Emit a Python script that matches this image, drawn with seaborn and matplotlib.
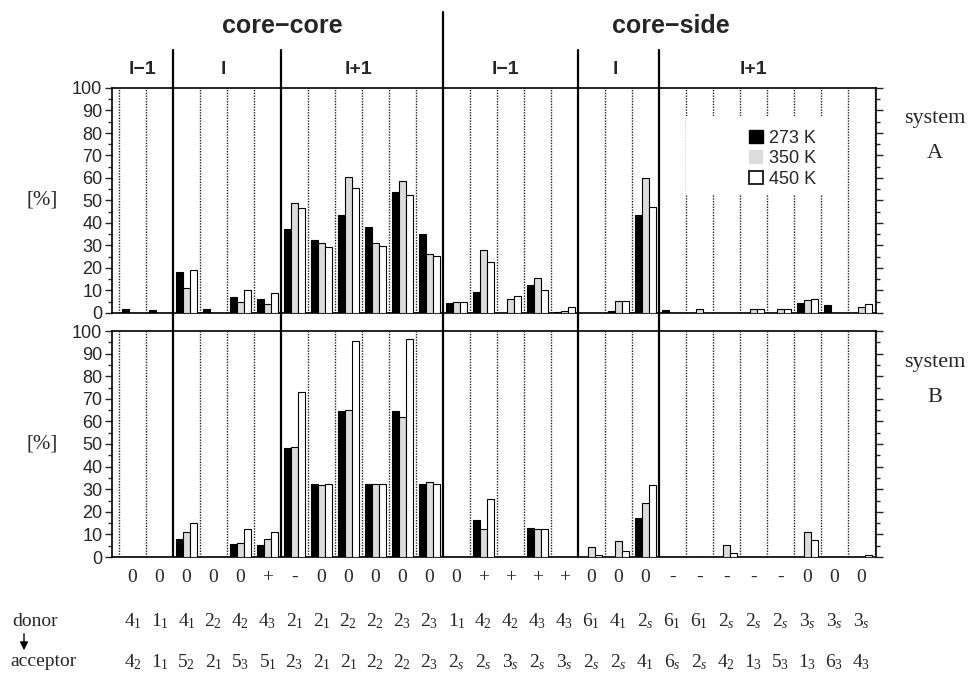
import numpy as np
import pandas as pd
import seaborn as sns
import matplotlib.pyplot as plt
import matplotlib.transforms as mtransforms
from matplotlib.patches import Patch, Rectangle
from matplotlib.ticker import MultipleLocator

# ---- data ----
temps = ['273 K', '350 K', '450 K']

charge = ['0', '0', '0', '0', '0', '+', '-', '0', '0', '0', '0', '0', '0', '+',
          '+', '+', '+', '0', '0', '0', '-', '-', '-', '-', '-', '0', '0', '0']
donor = ['4$_1$', '1$_1$', '4$_1$', '2$_2$', '4$_2$', '4$_3$', '2$_1$', '2$_1$',
         '2$_2$', '2$_2$', '2$_3$', '2$_3$', '1$_1$', '4$_2$', '4$_2$', '4$_3$',
         '4$_3$', '6$_1$', '4$_1$', '2$_s$', '6$_1$', '6$_1$', '2$_s$', '2$_s$',
         '2$_s$', '3$_s$', '3$_s$', '3$_s$']
acceptor = ['4$_2$', '1$_1$', '5$_2$', '2$_1$', '5$_3$', '5$_1$', '2$_3$', '2$_1$',
            '2$_1$', '2$_2$', '2$_2$', '2$_3$', '2$_s$', '2$_s$', '3$_s$', '2$_s$',
            '3$_s$', '2$_s$', '2$_s$', '4$_1$', '6$_s$', '2$_s$', '4$_2$', '1$_3$',
            '5$_3$', '1$_3$', '6$_3$', '4$_3$']

sysA_273 = [1.8, 1.5, 18.4, 1.8, 7.1, 6.2, 37.2, 32.3, 43.4, 38.4, 53.6, 35.3, 4.3, 9.5,
            0, 12.3, 0.4, 0, 1.0, 43.7, 1.5, 0, 0, 0, 0, 4.3, 3.6, 0]
sysA_350 = [0, 0, 11.1, 0, 4.7, 4.1, 48.7, 31.0, 60.4, 31.3, 58.7, 26.4, 4.9, 27.9,
            6.2, 15.6, 1.0, 0, 5.5, 60.0, 0, 1.8, 0, 1.8, 1.8, 5.6, 0, 2.7]
sysA_450 = [0, 0, 19.0, 0, 10.4, 8.9, 46.7, 29.2, 55.6, 29.8, 52.4, 25.2, 4.9, 22.7,
            7.7, 10.4, 2.5, 0, 5.5, 47.1, 0, 0, 0, 1.8, 1.8, 6.4, 0, 4.0]

sysB_273 = [0, 0, 8.1, 0, 5.7, 5.4, 48.4, 32.5, 64.6, 32.5, 64.7, 32.1, 0, 16.3,
            0, 12.9, 0, 0, 0, 17.2, 0, 0, 0, 0, 0, 0, 0, 0]
sysB_350 = [0, 0, 11.0, 0, 6.0, 8.1, 48.8, 31.9, 65.1, 32.1, 61.8, 33.2, 0, 12.4,
            0, 12.2, 0, 4.3, 7.2, 23.8, 0, 0, 5.3, 0, 0, 11.0, 0, 0]
sysB_450 = [0, 0, 14.9, 0, 12.4, 11.0, 72.9, 32.5, 95.7, 32.4, 96.6, 32.1, 0, 25.6,
            0, 12.2, 0, 1.0, 2.5, 31.9, 0, 0, 1.9, 0, 0, 7.5, 0, 0.9]

# group structure: boundaries between categories (index of first category of a group)
group_bounds = [2, 6, 12, 17, 20]
main_groups = ['core\u2212core', 'core\u2212side']
sub_groups = ['l\u22121', 'l', 'l+1', 'l\u22121', 'l', 'l+1']

rows = []
for system, series in [('A', [sysA_273, sysA_350, sysA_450]),
                       ('B', [sysB_273, sysB_350, sysB_450])]:
    for t, vals in zip(temps, series):
        for i, v in enumerate(vals):
            rows.append({'system': system, 'temp': t, 'cat': i, 'value': v})
df = pd.DataFrame(rows)

# ---- styling ----
sns.set_style('ticks')
plt.rcParams['font.family'] = ['Liberation Sans', 'DejaVu Sans']
plt.rcParams['mathtext.fontset'] = 'custom'
plt.rcParams['mathtext.rm'] = 'Liberation Serif'
plt.rcParams['mathtext.it'] = 'Liberation Serif:italic'
serif = ['Liberation Serif', 'DejaVu Serif']

palette = {'273 K': 'black', '350 K': '#dcdcdc', '450 K': 'white'}
W, H = 971, 677
fig = plt.figure(figsize=(W / 100, H / 100), dpi=100)
ax_a = fig.add_axes([112 / W, 1 - 313 / H, 764 / W, 225 / H])
ax_b = fig.add_axes([112 / W, 1 - 557 / H, 764 / W, 226 / H])

n = len(charge)
for ax, system in [(ax_a, 'A'), (ax_b, 'B')]:
    sns.barplot(data=df[df.system == system], x='cat', y='value', hue='temp',
                hue_order=temps, palette=palette, width=0.78, gap=0, dodge=True,
                edgecolor='black', linewidth=0.8, errorbar=None, legend=False,
                ax=ax, zorder=3)
    ax.set_xlim(-0.76, n - 0.46)
    ax.set_ylim(0, 100)
    ax.set_xlabel('')
    ax.set_ylabel('')
    ax.set_xticks([])
    ax.yaxis.set_major_locator(MultipleLocator(10))
    ax.yaxis.set_minor_locator(MultipleLocator(5))
    ax.tick_params(axis='y', which='major', direction='out', length=5, width=1,
                   labelsize=13, left=True, right=True, pad=2)
    ax.tick_params(axis='y', which='minor', direction='out', length=3, width=1,
                   left=True, right=True)
    for s in ax.spines.values():
        s.set_linewidth(1.2)
        s.set_color('black')
    # dotted separators between categories
    for b in range(n + 1):
        if b not in group_bounds:
            ax.axvline(b - 0.5, color='#222222', lw=1.0, ls=(0, (1, 1)), zorder=1)

# thick group separators
trans_a = mtransforms.blended_transform_factory(ax_a.transData, ax_a.transAxes)
for b in group_bounds:
    top = 1.338 if b == 12 else 1.169
    ax_a.plot([b - 0.5, b - 0.5], [-0.08, top], color='black', lw=1.6,
              transform=trans_a, clip_on=False, zorder=4)
    ax_b.axvline(b - 0.5, color='black', lw=1.6, zorder=4)

# headers
for x, lab in zip([5.54, 19.94], main_groups):
    ax_a.text(x, 1.276, lab, transform=trans_a, ha='center', va='center',
              fontsize=18, fontweight='bold')
for x, lab in zip([0.37, 3.35, 8.35, 13.8, 17.9, 23.0], sub_groups):
    ax_a.text(x, 1.084, lab, transform=trans_a, ha='center', va='center',
              fontsize=14, fontweight='bold')

# legend with white background patch behind it
ax_a.add_patch(Rectangle((20.5, 53), 5.4, 34.5, facecolor='white',
                         edgecolor='none', zorder=2))
handles = [Patch(facecolor='black', edgecolor='black'),
           Patch(facecolor='#dcdcdc', edgecolor='none'),
           Patch(facecolor='white', edgecolor='black', linewidth=1.2)]
ax_a.legend(handles, temps, loc='upper left', bbox_to_anchor=(0.822, 0.855),
            frameon=False, borderpad=0, handlelength=0.75, handleheight=0.75,
            handletextpad=0.35, labelspacing=0.2, fontsize=13)

# bottom labels
trans_b = mtransforms.blended_transform_factory(ax_b.transData, ax_b.transAxes)
for i in range(n):
    ax_b.text(i, -0.09, charge[i], transform=trans_b, ha='center', va='center',
              fontsize=14, family=serif)
    ax_b.text(i, -0.283, donor[i], transform=trans_b, ha='center', va='center',
              fontsize=14, family=serif)
    ax_b.text(i, -0.465, acceptor[i], transform=trans_b, ha='center', va='center',
              fontsize=14, family=serif)

fig.text(12 / W, 1 - 621 / H, 'donor', ha='left', va='center', fontsize=14, family=serif)
fig.text(10 / W, 1 - 662 / H, 'acceptor', ha='left', va='center', fontsize=14, family=serif)
fig.add_artist(plt.Annotation('', xy=(24 / W, 1 - 653 / H), xytext=(24 / W, 1 - 631 / H),
                              xycoords='figure fraction', textcoords='figure fraction',
                              arrowprops=dict(arrowstyle='-|>', color='black', lw=1,
                                              mutation_scale=12)))

# side labels
for yc in [200, 444]:
    fig.text(42 / W, 1 - yc / H, '[%]', ha='center', va='center', fontsize=15, family=serif)
for y1, name in [(118, 'A'), (363, 'B')]:
    fig.text(935 / W, 1 - y1 / H, 'system', ha='center', va='center', fontsize=16, family=serif)
    fig.text(935 / W, 1 - (y1 + 35) / H, name, ha='center', va='center', fontsize=16, family=serif)

fig.savefig('out.png', dpi=100)
